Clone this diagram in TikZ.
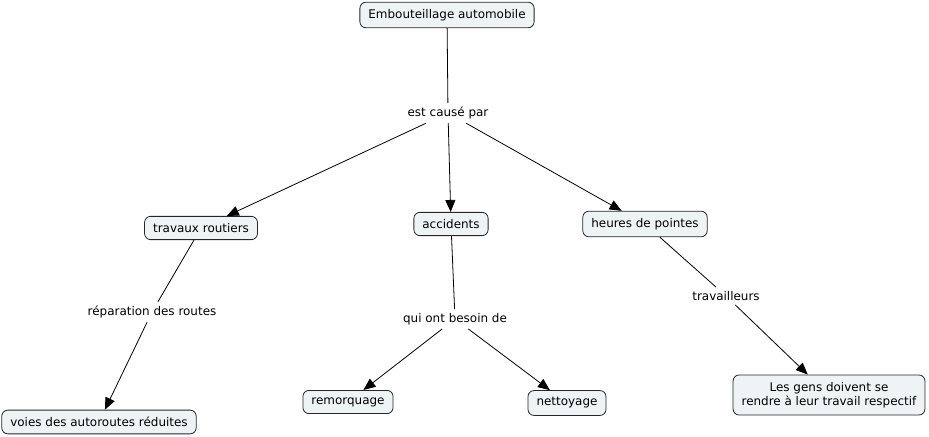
\documentclass[tikz,border=0pt]{standalone}
\usepackage{fontspec}
\setmainfont{DejaVu Sans}
\usetikzlibrary{arrows.meta}
\begin{document}
\begin{tikzpicture}[x=1bp,y=-1bp,
  concept/.style={draw=black!85,line width=0.8bp,rounded corners=6bp,fill=boxfill,
    inner xsep=8.5bp,inner ysep=7bp,font=\fontsize{12}{14.5}\selectfont,align=center},
  linkl/.style={fill=white,inner sep=4bp,font=\fontsize{12}{14.5}\selectfont},
  conn/.style={draw=black,line width=0.8bp},
  arr/.style={conn,-{Triangle[length=12bp,width=10bp]}}]
\definecolor{boxfill}{HTML}{EEF4F6}
\useasboundingbox (0,0) rectangle (929,437);
\node[concept] (emb) at (447,15) {Embouteillage automobile};
\node[linkl] (cause) at (448,113) {est causé par};
\node[concept] (trav) at (201,228) {travaux routiers};
\node[concept] (acc) at (451,224) {accidents};
\node[concept] (heur) at (645,224) {heures de pointes};
\node[linkl] (rep) at (152,312) {réparation des routes};
\node[concept] (voies) at (99,422) {voies des autoroutes réduites};
\node[linkl] (qui) at (455,319) {qui ont besoin de};
\node[concept] (rem) at (348,402) {remorquage};
\node[concept] (net) at (567,403) {nettoyage};
\node[linkl] (tw) at (726,296) {travailleurs};
\node[concept] (gens) at (829,395) {Les gens doivent se\\ rendre à leur travail respectif};
\draw[conn] (emb) -- (cause);
\draw[arr] (cause) -- (trav);
\draw[arr] (cause) -- (acc);
\draw[arr] (cause) -- (heur);
\draw[conn] (trav) -- (rep);
\draw[arr] (rep) -- (voies);
\draw[conn] (acc) -- (qui);
\draw[arr] (qui) -- (rem);
\draw[arr] (qui) -- (net);
\draw[conn] (heur) -- (tw);
\draw[arr] (tw) -- (gens);
\end{tikzpicture}
\end{document}
